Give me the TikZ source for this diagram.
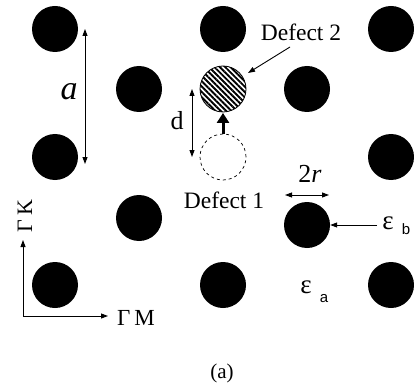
\documentclass[tikz,border=0pt]{standalone}
\usepackage{fontspec}
\setmainfont{Liberation Serif}
\setsansfont{Liberation Sans}
\usetikzlibrary{arrows.meta,patterns.meta}
\begin{document}
\begin{tikzpicture}[x=1pt,y=-1pt,
  rod/.style={circle,fill=black,minimum size=46pt,inner sep=0pt},
  thin arrow/.style={line width=0.9pt},
  lbl/.style={inner sep=0pt,anchor=base}]
\useasboundingbox (0,0) rectangle (414,390);
% lattice rods
\node[rod] (r11) at (55,29) {};
\node[rod] (r12) at (223,29) {};
\node[rod] (r13) at (391,29) {};
\node[rod] (r21) at (139,89) {};
\node[rod] (r23) at (307,89) {};
\node[rod] (r31) at (55,157) {};
\node[rod] (r33) at (391,157) {};
\node[rod] (r41) at (139,218) {};
\node[rod] (r42) at (307,225) {};
\node[rod] (r51) at (55,285) {};
\node[rod] (r52) at (223,285) {};
\node[rod] (r53) at (391,285) {};
% defects
\node[circle,minimum size=46pt,inner sep=0pt,draw,line width=0.8pt,
  pattern={Lines[angle=-45,distance=3.8pt,line width=1.9pt]}] (d2) at (223,89) {};
\node[circle,minimum size=46pt,inner sep=0pt,draw,dashed,line width=0.7pt] (d1) at (223,157) {};
\draw[line width=3pt,-{Triangle[length=10pt,width=12pt]}] (d1.north) -- (d2.south);
% lattice constant a
\coordinate (aT) at (85,29);
\coordinate (aB) at (85,164);
\draw[thin arrow,{Triangle[length=7pt,width=5pt]}-{Triangle[length=7pt,width=5pt]}] (aT) -- (aB);
\node[lbl,font=\fontsize{34}{34}\selectfont\itshape] (alab) at (69,100) {a};
% d
\coordinate (dT) at (192,89);
\coordinate (dB) at (192,157);
\draw[thin arrow,{Triangle[length=7pt,width=5pt]}-{Triangle[length=7pt,width=5pt]}] (dT) -- (dB);
\node[lbl,font=\fontsize{26}{26}\selectfont] (dlab) at (177,130) {d};
% Defect labels
\node[lbl,font=\fontsize{23.5}{23.5}\selectfont] (def2) at (301,41) {Defect 2};
\coordinate (p2a) at (290,47);
\coordinate (p2b) at (248,73);
\draw[thin arrow,-{Triangle[length=7pt,width=5pt]}] (p2a) -- (p2b);
\node[lbl,font=\fontsize{23.5}{23.5}\selectfont] (def1) at (224,208) {Defect 1};
% 2r
\node[lbl,font=\fontsize{26}{26}\selectfont] (rlab) at (310,182) {2\textit{r}};
\coordinate (rL) at (285,195);
\coordinate (rR) at (329,195);
\draw[thin arrow,{Triangle[length=7pt,width=5pt]}-{Triangle[length=7pt,width=5pt]}] (rL) -- (rR);
% epsilon b
\node[lbl,font=\fontsize{27}{27}\selectfont] (eb) at (388,229) {ε};
\node[lbl,font=\sffamily\fontsize{15}{15}\selectfont] (ebs) at (406,234) {b};
\coordinate (ebT) at (377,225);
\draw[thin arrow,-{Triangle[length=7pt,width=5pt]}] (ebT) -- (r42.east);
% epsilon a
\node[lbl,font=\fontsize{27}{27}\selectfont] (ea) at (306,293) {ε};
\node[lbl,font=\sffamily\fontsize{15}{15}\selectfont] (eas) at (324,302) {a};
% axes
\coordinate (o) at (23,316);
\coordinate (oy) at (23,240);
\coordinate (ox) at (108,316);
\draw[thin arrow,-{Triangle[length=7pt,width=5pt]}] (o) -- (oy);
\draw[thin arrow,-{Triangle[length=7pt,width=5pt]}] (o) -- (ox);
\node[lbl,font=\fontsize{23}{23}\selectfont] (gm) at (136,325) {Γ\,M};
\node[inner sep=0pt,rotate=90,font=\fontsize{22}{22}\selectfont] (gk) at (25,216) {Γ\,K};
% caption
\node[inner sep=0pt,font=\fontsize{21}{21}\selectfont] (cap) at (222,373) {(a)};
\end{tikzpicture}
\end{document}
